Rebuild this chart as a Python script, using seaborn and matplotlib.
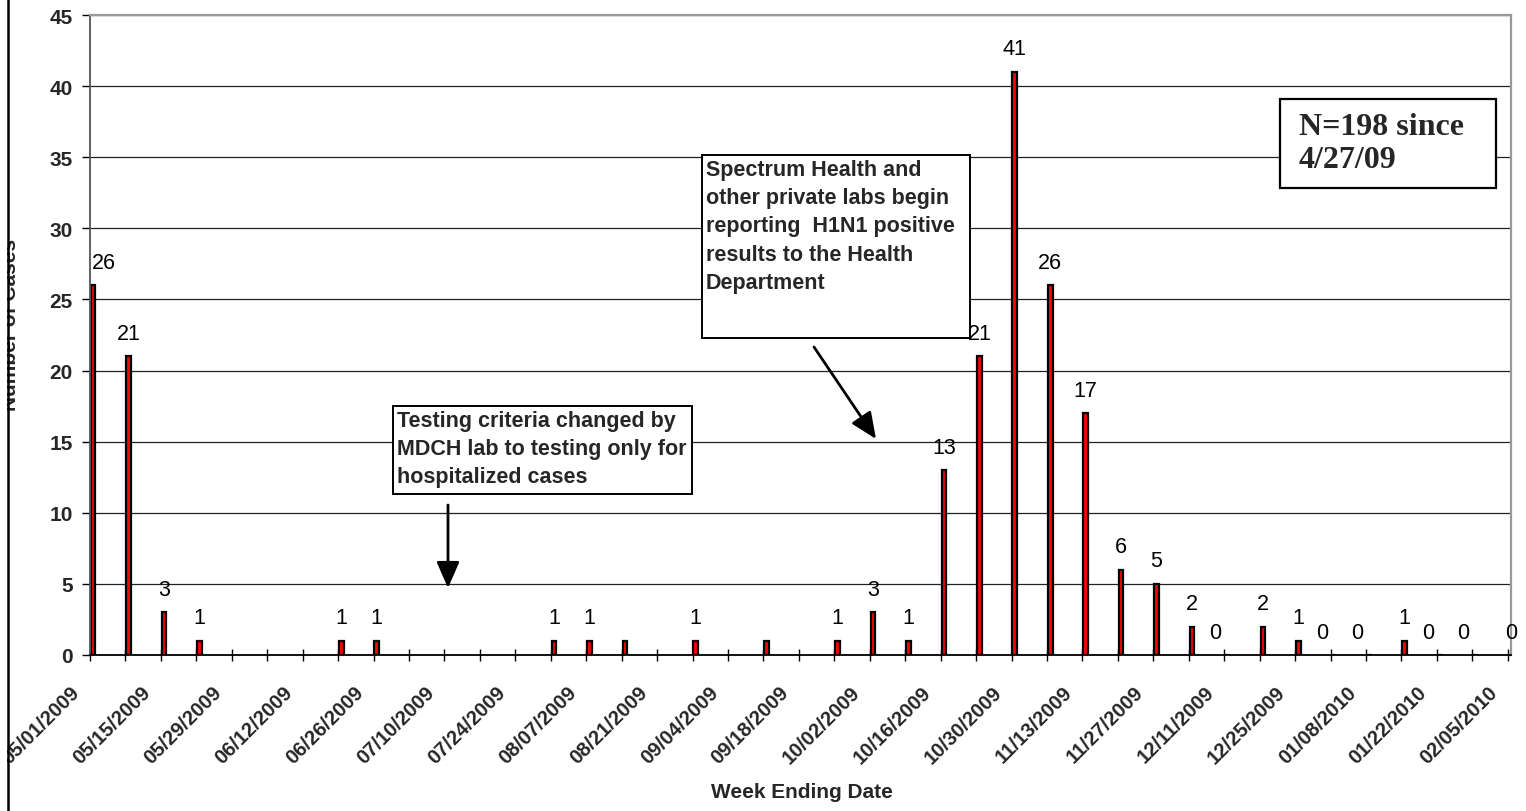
import matplotlib
matplotlib.use("Agg")
import matplotlib.pyplot as plt
from matplotlib.patches import Rectangle, FancyArrowPatch
from matplotlib.lines import Line2D
from matplotlib.transforms import ScaledTranslation
import numpy as np
import pandas as pd
import seaborn as sns

W, H = 1526, 812

week_ending = [
    "05/01/2009", "05/08/2009", "05/15/2009", "05/22/2009", "05/29/2009", "06/05/2009",
    "06/12/2009", "06/19/2009", "06/26/2009", "07/03/2009", "07/10/2009", "07/17/2009",
    "07/24/2009", "07/31/2009", "08/07/2009", "08/14/2009", "08/21/2009", "08/28/2009",
    "09/04/2009", "09/11/2009", "09/18/2009", "09/25/2009", "10/02/2009", "10/09/2009",
    "10/16/2009", "10/23/2009", "10/30/2009", "11/06/2009", "11/13/2009", "11/20/2009",
    "11/27/2009", "12/04/2009", "12/11/2009", "12/18/2009", "12/25/2009", "01/01/2010",
    "01/08/2010", "01/15/2010", "01/22/2010", "01/29/2010", "02/05/2010",
]
# None = no report that week
cases = [26, 21, 3, 1, None, None, None, 1, 1, None, None, None, None,
         1, 1, 1, None, 1, None, 1, None, 1, 3, 1, 13, 21, 41, 26, 17,
         6, 5, 2, 0, 2, 1, 0, 0, 1, 0, 0, 0]
# weeks whose bar carries no data label in the original
no_label = ["08/14/2009", "09/11/2009"]
y_ticks = [0, 5, 10, 15, 20, 25, 30, 35, 40, 45]

note_spectrum = ("Spectrum Health and\nother private labs begin\n"
                 "reporting  H1N1 positive\nresults to the Health\nDepartment")
note_testing = ("Testing criteria changed by\nMDCH lab to testing only for\n"
                "hospitalized cases")
note_total = "N=198 since\n4/27/09"


def fx(x):
    return x / W


def fy(y):
    return 1 - y / H


sns.set_theme(style="white")
plt.rcParams["font.family"] = ["Liberation Sans", "DejaVu Sans"]

df = pd.DataFrame({"week": week_ending, "cases": cases}).dropna()

fig = plt.figure(figsize=(W / 100, H / 100), dpi=100)
fig.patch.set_facecolor("white")
ax = fig.add_axes([fx(90), fy(656), fx(1511) - fx(90), fy(16) - fy(656)])

BW = 0.13
SHIFT = 0.09  # ticks sit at the left edge of each bar
sns.barplot(data=df, x="week", y="cases", order=week_ending, width=BW,
            color="#ff0000", saturation=1, edgecolor="black", linewidth=1.6,
            errorbar=None, ax=ax)

pos = np.arange(len(week_ending)) - SHIFT
ax.set_xticks(pos[::2])
ax.set_xticklabels(week_ending[::2], rotation=45, ha="right", va="center",
                   rotation_mode="anchor", fontweight="bold", fontsize=14.5)
ax.set_xticks(pos[1::2], minor=True)
ax.tick_params(axis="x", which="both", direction="inout", length=8.6, width=1,
               color="black", bottom=True, pad=20)
for lab in ax.get_xticklabels():
    lab.set_transform(lab.get_transform() + ScaledTranslation(-0.13, 0, fig.dpi_scale_trans))

ax.set_xlim(-SHIFT, len(week_ending) - 1)
ax.set_ylim(0, 45)
ax.set_yticks(y_ticks)
ax.set_yticklabels([str(v) for v in y_ticks], fontweight="bold", fontsize=15)
ax.tick_params(axis="y", direction="out", length=5.8, width=1, color="black",
               left=True, pad=6.5)
ax.yaxis.grid(True, color="#222222", linewidth=0.9)
ax.set_axisbelow(True)
ax.set_xlabel("")
ax.set_ylabel("")

for side in ["top", "right"]:
    ax.spines[side].set_color("#999999")
    ax.spines[side].set_linewidth(1.6)
ax.spines["left"].set_color("#555555")
ax.spines["left"].set_linewidth(1.3)
ax.spines["bottom"].set_color("black")
ax.spines["bottom"].set_linewidth(1.3)

last = len(week_ending) - 1
for i, (wk, n) in enumerate(zip(week_ending, cases)):
    if n is None or wk in no_label:
        continue
    x, dx, ha = i, 0, "center"
    if n == 0 and i != last:
        dx = -8.6
    if i == 0:
        x, dx, ha = i - SHIFT, 1.5, "left"
    ax.annotate(str(n), (x, n), xytext=(dx, 16.5), textcoords="offset points",
                ha=ha, va="center", fontsize=15.5, color="black")

# axis titles
fig.text(fx(802), fy(793), "Week Ending Date", ha="center", va="center",
         fontsize=15, fontweight="bold")
fig.text(fx(10.5), fy(325), "Number of Cases", ha="center", va="center",
         rotation=90, fontsize=15, fontweight="bold")

# annotation boxes
fig.add_artist(Rectangle((fx(702), fy(339)), fx(970) - fx(702), fy(156) - fy(339),
                         transform=fig.transFigure, facecolor="white",
                         edgecolor="black", linewidth=1.4, zorder=3))
fig.text(fx(706), fy(160), note_spectrum, ha="left", va="top", fontsize=15.5,
         fontweight="bold", linespacing=1.45, zorder=4)

fig.add_artist(Rectangle((fx(393), fy(495)), fx(692) - fx(393), fy(407) - fy(495),
                         transform=fig.transFigure, facecolor="white",
                         edgecolor="black", linewidth=1.4, zorder=3))
fig.text(fx(397), fy(411), note_testing, ha="left", va="top", fontsize=15.5,
         fontweight="bold", linespacing=1.45, zorder=4)

fig.add_artist(Rectangle((fx(1280), fy(189)), fx(1496) - fx(1280), fy(100) - fy(189),
                         transform=fig.transFigure, facecolor="white",
                         edgecolor="black", linewidth=1.6, zorder=3))
fig.text(fx(1299), fy(113), note_total, ha="left", va="top", fontsize=23,
         fontweight="bold", family=["Liberation Serif", "DejaVu Serif"],
         linespacing=1.2, zorder=4)

# arrows
for (x0, y0), (x1, y1) in [((814, 348), (876, 440)), ((448, 506), (448, 589))]:
    fig.add_artist(FancyArrowPatch((fx(x0), fy(y0)), (fx(x1), fy(y1)),
                                   transform=fig.transFigure,
                                   arrowstyle="-|>,head_length=0.8,head_width=0.35",
                                   mutation_scale=20, linewidth=2, color="black",
                                   shrinkA=0, shrinkB=0, zorder=4))

# outer chart frame on the left, clipping what lies beyond it
fig.add_artist(Rectangle((0, 0), fx(7), 1, transform=fig.transFigure,
                         facecolor="white", edgecolor="none", zorder=5))
fig.add_artist(Line2D([fx(7.5), fx(7.5)], [0, 1], transform=fig.transFigure,
                      color="black", linewidth=1.8, zorder=6))

fig.savefig("out.png", dpi=100, facecolor="white")
